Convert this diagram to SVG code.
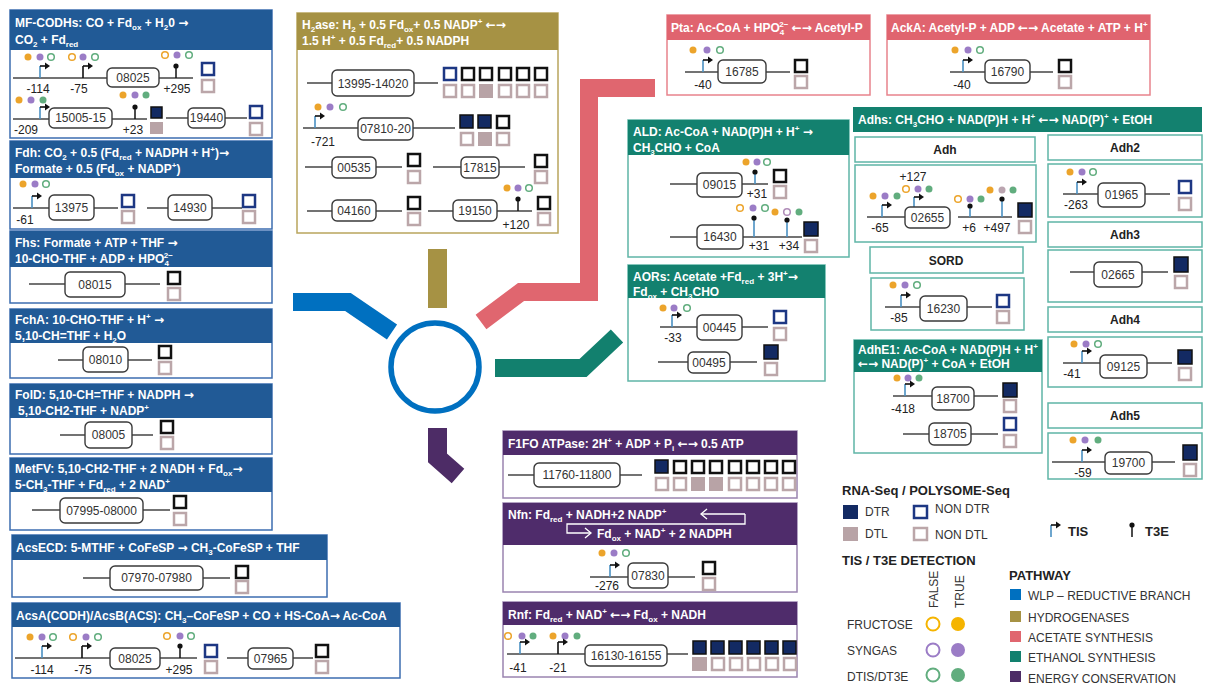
<svg xmlns="http://www.w3.org/2000/svg" xmlns:xlink="http://www.w3.org/1999/xlink" width="1209" height="685" viewBox="0 0 1209 685">
<style>
text{font-family:'Liberation Sans',Arial,sans-serif}
.hd{font-weight:bold;font-size:12px;fill:#fff}
.ar{font-family:'DejaVu Sans',sans-serif;font-weight:bold;font-size:12px}
.sub{font-size:8px;baseline-shift:-3px}
.sup{font-size:8px;baseline-shift:5px}
.gr{fill:#fff;stroke:#3a3a3a;stroke-width:1.4}
.gt{font-size:12px;fill:#333;text-anchor:middle}
.lb{font-size:12px;fill:#222;text-anchor:middle}
.ln{stroke:#444;stroke-width:1.5;fill:none}
.dtr{fill:#132a63;stroke:#111;stroke-width:1.5}
.ndb{fill:#fff;stroke:#1d3783;stroke-width:2.5}
.ndk{fill:#fff;stroke:#111;stroke-width:2.5}
.dtl{fill:#b8a3a6}
.ndl{fill:#fff;stroke:#bba6a9;stroke-width:2.5}
.of{fill:#eca42b}.oh{fill:#fff;stroke:#eca42b;stroke-width:1.5}
.pf{fill:#9b7cc6}.ph{fill:#fff;stroke:#b08cb8;stroke-width:1.5}
.gf{fill:#61ad7e}.gh{fill:#fff;stroke:#61ad7e;stroke-width:1.5}
.mf{fill:#bba5b0}
.bxB{fill:#fff;stroke:#3c6db0;stroke-width:1.5}.hB{fill:#215a96}
.bxO{fill:#fff;stroke:#b9a55c;stroke-width:1.5}.hO{fill:#a69244}
.bxP{fill:#fff;stroke:#e8838c;stroke-width:1.5}.hP{fill:#e0646f}
.bxT{fill:#fff;stroke:#5fb5a7;stroke-width:1.5}.hT{fill:#13816f}
.bxV{fill:#fff;stroke:#9a84b0;stroke-width:1.5}.hV{fill:#4f2c6b}
.sl{font-weight:bold;font-size:12px;fill:#222;text-anchor:middle}
.lg{font-size:12px;fill:#333}
.lgb{font-weight:bold;font-size:13px;fill:#222}
.t3b{stroke:#4a90c2;stroke-width:1.6}
.t3k{stroke:#111;stroke-width:1.5}
</style>
<defs>
<g id="tisB"><line x1="0" y1="0" x2="0" y2="-12" stroke="#4a90c2" stroke-width="1.6"/><line x1="0" y1="-12" x2="6" y2="-12" stroke="#111" stroke-width="1.6"/><path d="M5,-15.5 L10,-12 L5,-8.5 Z" fill="#111"/></g>
<g id="tisK"><line x1="0" y1="0" x2="0" y2="-12" stroke="#111" stroke-width="1.6"/><line x1="0" y1="-12" x2="6" y2="-12" stroke="#111" stroke-width="1.6"/><path d="M5,-15.5 L10,-12 L5,-8.5 Z" fill="#111"/></g>
<g id="t3K"><line x1="0" y1="0" x2="0" y2="-12" stroke="#111" stroke-width="1.5"/><circle cx="0" cy="-12" r="2.6" fill="#111"/></g>
<g id="t3B"><line x1="0" y1="0" x2="0" y2="-12" stroke="#4a90c2" stroke-width="1.6"/><circle cx="0" cy="-12" r="2.6" fill="#111"/></g>
</defs>
<rect width="1209" height="685" fill="#fff"/>

<g id="connectors" fill="none" stroke-width="18">
<polyline points="293,302 348,302 392,332" stroke="#0070c0"/>
<line x1="437.5" y1="249" x2="437.5" y2="308" stroke="#a69244" stroke-width="19"/>
<polyline points="481,322 521,292 589,292 589,88 655,88" stroke="#e0666f"/>
<polyline points="495,368 583,368 617,336" stroke="#12806e"/>
<polyline points="437.5,428 437.5,458 458,476" stroke="#4d2c66" stroke-width="19"/>
<circle cx="435" cy="367" r="44" stroke="#0070c0" stroke-width="5.5"/>
</g>

<g id="mfcodh">
<rect class="bxB" x="10" y="10" width="262" height="128"/>
<rect class="hB" x="10" y="10" width="262" height="40"/>
<text class="hd" x="15" y="27">MF-CODHs: CO + Fd<tspan class="sub">ox</tspan> + H<tspan class="sub">2</tspan>0 <tspan class="ar">→</tspan></text>
<text class="hd" x="15" y="44">CO<tspan class="sub">2</tspan> + Fd<tspan class="sub">red</tspan></text>
<circle class="of" cx="28" cy="57" r="3.5"/><circle class="pf" cx="40" cy="57" r="3.5"/><circle class="gh" cx="51" cy="57" r="3.3"/>
<circle class="oh" cx="72" cy="57" r="3.3"/><circle class="pf" cx="83" cy="57" r="3.5"/><circle class="gh" cx="95" cy="57" r="3.3"/>
<circle class="oh" cx="165" cy="55" r="3.3"/><circle class="pf" cx="177" cy="55" r="3.5"/><circle class="gh" cx="189" cy="55" r="3.3"/>
<line class="ln" x1="13" y1="78" x2="107" y2="78"/><line class="ln" x1="159" y1="78" x2="193" y2="78"/>
<use href="#tisB" x="40" y="78"/><use href="#tisK" x="83" y="78"/><use href="#t3K" x="176" y="78"/>
<rect class="gr" x="107" y="68" width="52" height="19" rx="5"/><text class="gt" x="133" y="82">08025</text>
<text class="lb" x="38" y="93">-114</text><text class="lb" x="79" y="93">-75</text><text class="lb" x="177" y="93">+295</text>
<rect class="ndb" x="202" y="63" width="12" height="12"/><rect class="ndl" x="202" y="80" width="12" height="12"/>
<circle class="of" cx="19" cy="100" r="3.5"/><circle class="pf" cx="31" cy="100" r="3.5"/><circle class="gf" cx="43" cy="100" r="3.5"/>
<circle class="of" cx="123" cy="95" r="3.5"/><circle class="pf" cx="135" cy="95" r="3.5"/><circle class="gf" cx="146" cy="95" r="3.5"/>
<line class="ln" x1="13" y1="119" x2="49" y2="119"/><line class="ln" x1="112" y1="119" x2="147" y2="119"/>
<use href="#tisB" x="40" y="119"/><use href="#t3K" x="135" y="119"/>
<rect class="gr" x="49" y="108" width="63" height="20" rx="5"/><text class="gt" x="80.5" y="122">15005-15</text>
<text class="lb" x="26" y="134">-209</text><text class="lb" x="133" y="134">+23</text>
<rect class="dtr" x="151" y="107" width="11" height="11"/><rect class="dtl" x="150" y="122" width="13" height="12"/>
<line class="ln" x1="166" y1="118" x2="247" y2="118"/>
<rect class="gr" x="188" y="108" width="37" height="20" rx="5"/><text class="gt" x="206.5" y="122">19440</text>
<rect class="ndb" x="250" y="106" width="12" height="12"/><rect class="ndl" x="250" y="123" width="12" height="12"/>
</g>

<g id="fdh">
<rect class="bxB" x="10" y="141" width="262" height="88"/>
<rect class="hB" x="10" y="141" width="262" height="37"/>
<text class="hd" x="15" y="157">Fdh: CO<tspan class="sub">2</tspan> +  0.5 (Fd<tspan class="sub">red</tspan> + NADPH + H<tspan class="sup">+</tspan>)<tspan class="ar">→</tspan></text>
<text class="hd" x="15" y="173">Formate + 0.5 (Fd<tspan class="sub">ox</tspan> + NADP<tspan class="sup">+</tspan>)</text>
<circle class="of" cx="23" cy="184" r="3.5"/><circle class="pf" cx="35" cy="184" r="3.5"/><circle class="gh" cx="46" cy="184" r="3.3"/>
<line class="ln" x1="13" y1="208" x2="118" y2="208"/>
<use href="#tisB" x="32" y="208"/>
<rect class="gr" x="49" y="195" width="45" height="25" rx="5"/><text class="gt" x="71.5" y="212">13975</text>
<text class="lb" x="25" y="224">-61</text>
<rect class="ndb" x="122" y="195" width="12" height="12"/><rect class="ndl" x="122" y="211" width="12" height="12"/>
<line class="ln" x1="147" y1="208" x2="242" y2="208"/>
<rect class="gr" x="168" y="195" width="44" height="25" rx="5"/><text class="gt" x="190" y="212">14930</text>
<rect class="ndb" x="243" y="195" width="12" height="12"/><rect class="ndl" x="243" y="211" width="12" height="12"/>
</g>

<g id="fhs">
<rect class="bxB" x="10" y="231" width="262" height="72"/>
<rect class="hB" x="10" y="231" width="262" height="36"/>
<text class="hd" x="15" y="247">Fhs: Formate  + ATP + THF <tspan class="ar">→</tspan></text>
<text class="hd" x="15" y="263">10-CHO-THF + ADP + HPO<tspan class="sub">4</tspan><tspan class="sup" dx="-5">2−</tspan></text>
<line class="ln" x1="29" y1="284" x2="160" y2="284"/>
<rect class="gr" x="65" y="272" width="60" height="25" rx="5"/><text class="gt" x="95" y="289">08015</text>
<rect class="ndk" x="168" y="272" width="12" height="12"/><rect class="ndl" x="168" y="288" width="12" height="12"/>
</g>

<g id="fcha">
<rect class="bxB" x="10" y="309" width="262" height="69"/>
<rect class="hB" x="10" y="309" width="262" height="34"/>
<text class="hd" x="15" y="324">FchA: 10-CHO-THF + H<tspan class="sup">+</tspan> <tspan class="ar">→</tspan></text>
<text class="hd" x="15" y="340">5,10-CH=THF + H<tspan class="sub">2</tspan>O</text>
<line class="ln" x1="58" y1="360" x2="152" y2="360"/>
<rect class="gr" x="83" y="347" width="45" height="25" rx="5"/><text class="gt" x="105.5" y="364">08010</text>
<rect class="ndk" x="159" y="346" width="12" height="12"/><rect class="ndl" x="159" y="362" width="12" height="12"/>
</g>

<g id="fold">
<rect class="bxB" x="10" y="384" width="262" height="70"/>
<rect class="hB" x="10" y="384" width="262" height="34"/>
<text class="hd" x="15" y="399">FolD: 5,10-CH=THF + NADPH <tspan class="ar">→</tspan></text>
<text class="hd" x="18" y="415">5,10-CH2-THF  + NADP<tspan class="sup">+</tspan></text>
<line class="ln" x1="60" y1="435" x2="153" y2="435"/>
<rect class="gr" x="85" y="422" width="47" height="26" rx="5"/><text class="gt" x="108.5" y="439">08005</text>
<rect class="ndk" x="161" y="421" width="12" height="12"/><rect class="ndl" x="161" y="437" width="12" height="12"/>
</g>

<g id="metfv">
<rect class="bxB" x="10" y="458" width="262" height="72"/>
<rect class="hB" x="10" y="458" width="262" height="34"/>
<text class="hd" x="15" y="473">MetFV: 5,10-CH2-THF + 2 NADH + Fd<tspan class="sub">ox</tspan><tspan class="ar">→</tspan></text>
<text class="hd" x="15" y="489">5-CH<tspan class="sub">3</tspan>-THF  + Fd<tspan class="sub">red</tspan> + 2 NAD<tspan class="sup">+</tspan></text>
<line class="ln" x1="32" y1="510" x2="170" y2="510"/>
<rect class="gr" x="60" y="498" width="83" height="25" rx="5"/><text class="gt" x="101.5" y="515">07995-08000</text>
<rect class="ndk" x="174" y="496" width="12" height="12"/><rect class="ndl" x="174" y="513" width="12" height="12"/>
</g>

<g id="acsecd">
<rect class="bxB" x="12" y="535" width="315" height="62"/>
<rect class="hB" x="12" y="535" width="315" height="25"/>
<text class="hd" x="16" y="552">AcsECD: 5-MTHF + CoFeSP <tspan class="ar">→</tspan> CH<tspan class="sub">3</tspan>-CoFeSP + THF</text>
<line class="ln" x1="83" y1="578" x2="230" y2="578"/>
<rect class="gr" x="110" y="566" width="93" height="24" rx="5"/><text class="gt" x="156.5" y="582">07970-07980</text>
<rect class="ndk" x="236" y="566" width="12" height="12"/><rect class="ndl" x="236" y="581" width="12" height="12"/>
</g>

<g id="acsa">
<rect class="bxB" x="12" y="603" width="388" height="75"/>
<rect class="hB" x="12" y="603" width="388" height="24"/>
<text class="hd" x="16" y="620">AcsA(CODH)/AcsB(ACS): CH<tspan class="sub">3</tspan>–CoFeSP + CO + HS-CoA<tspan class="ar">→</tspan> Ac-CoA</text>
<circle class="of" cx="30" cy="637" r="3.5"/><circle class="pf" cx="42" cy="637" r="3.5"/><circle class="gh" cx="53" cy="637" r="3.3"/>
<circle class="oh" cx="73" cy="637" r="3.3"/><circle class="pf" cx="86" cy="637" r="3.5"/><circle class="gh" cx="98" cy="637" r="3.3"/>
<circle class="oh" cx="167" cy="636" r="3.3"/><circle class="pf" cx="180" cy="636" r="3.5"/><circle class="gh" cx="191" cy="636" r="3.3"/>
<line class="ln" x1="15" y1="658" x2="110" y2="658"/><line class="ln" x1="160" y1="658" x2="197" y2="658"/>
<use href="#tisB" x="42" y="658"/><use href="#tisK" x="82" y="658"/><use href="#t3K" x="180" y="658"/>
<rect class="gr" x="110" y="648" width="50" height="21" rx="5"/><text class="gt" x="135" y="663">08025</text>
<text class="lb" x="42" y="674">-114</text><text class="lb" x="83" y="674">-75</text><text class="lb" x="179" y="674">+295</text>
<rect class="ndb" x="205" y="645" width="12" height="12"/><rect class="ndl" x="205" y="661" width="12" height="12"/>
<line class="ln" x1="227" y1="658" x2="313" y2="658"/>
<rect class="gr" x="248" y="648" width="45" height="21" rx="5"/><text class="gt" x="270.5" y="663">07965</text>
<rect class="ndk" x="316" y="645" width="12" height="12"/><rect class="ndl" x="316" y="661" width="12" height="12"/>
</g>

<g id="h2ase">
<rect class="bxO" x="297" y="13" width="261" height="220"/>
<rect class="hO" x="297" y="13" width="261" height="37"/>
<text class="hd" x="302" y="29">H<tspan class="sub">2</tspan>ase: H<tspan class="sub">2</tspan> + 0.5 Fd<tspan class="sub">ox</tspan>+ 0.5 NADP<tspan class="sup">+</tspan> <tspan class="ar">←→</tspan></text>
<text class="hd" x="302" y="45">1.5 H<tspan class="sup">+</tspan> + 0.5 Fd<tspan class="sub">red</tspan>+ 0.5 NADPH</text>
<line class="ln" x1="307" y1="83" x2="438" y2="83"/>
<rect class="gr" x="332" y="70" width="82" height="26" rx="5"/><text class="gt" x="373" y="88">13995-14020</text>
<rect class="ndb" x="444" y="68" width="12" height="12"/><rect class="ndk" x="462" y="68" width="12" height="12"/><rect class="ndk" x="480" y="68" width="12" height="12"/><rect class="ndk" x="499" y="68" width="12" height="12"/><rect class="ndk" x="517" y="68" width="12" height="12"/><rect class="ndk" x="535" y="68" width="12" height="12"/>
<rect class="ndl" x="444" y="85" width="12" height="12"/><rect class="ndl" x="462" y="85" width="12" height="12"/><rect class="dtl" x="479" y="84" width="14" height="14"/><rect class="ndl" x="499" y="85" width="12" height="12"/><rect class="ndl" x="517" y="85" width="12" height="12"/><rect class="ndl" x="535" y="85" width="12" height="12"/>
<circle class="of" cx="318" cy="107" r="3.5"/><circle class="pf" cx="330" cy="107" r="3.5"/><circle class="gh" cx="343" cy="107" r="3.3"/>
<line class="ln" x1="303" y1="128" x2="455" y2="128"/>
<use href="#tisB" x="315" y="128"/>
<rect class="gr" x="358" y="118" width="55" height="22" rx="5"/><text class="gt" x="385.5" y="133">07810-20</text>
<text class="lb" x="323" y="146">-721</text>
<rect class="dtr" x="460" y="115" width="13" height="13"/><rect class="dtr" x="478" y="115" width="13" height="13"/><rect class="ndk" x="497" y="116" width="12" height="12"/>
<rect class="ndl" x="461" y="133" width="12" height="12"/><rect class="dtl" x="478" y="132" width="14" height="14"/><rect class="ndl" x="497" y="133" width="12" height="12"/>
<line class="ln" x1="305" y1="167" x2="402" y2="167"/>
<rect class="gr" x="332" y="157" width="44" height="21" rx="5"/><text class="gt" x="354" y="172">00535</text>
<rect class="ndk" x="408" y="154" width="12" height="12"/><rect class="ndl" x="408" y="171" width="12" height="12"/>
<line class="ln" x1="433" y1="167" x2="525" y2="167"/>
<rect class="gr" x="461" y="157" width="38" height="21" rx="5"/><text class="gt" x="480" y="172">17815</text>
<rect class="ndk" x="535" y="155" width="12" height="12"/><rect class="ndl" x="535" y="171" width="12" height="12"/>
<line class="ln" x1="307" y1="211" x2="402" y2="211"/>
<rect class="gr" x="332" y="200" width="44" height="21" rx="5"/><text class="gt" x="354" y="215">04160</text>
<rect class="ndk" x="408" y="197" width="12" height="12"/><rect class="ndl" x="408" y="213" width="12" height="12"/>
<line class="ln" x1="428" y1="211" x2="532" y2="211"/>
<rect class="gr" x="453" y="200" width="44" height="21" rx="5"/><text class="gt" x="475" y="215">19150</text>
<use href="#t3K" x="518" y="211"/>
<circle class="of" cx="507" cy="188" r="3.5"/><circle class="pf" cx="518" cy="188" r="3.5"/><circle class="gh" cx="529" cy="188" r="3.3"/>
<text class="lb" x="516" y="229">+120</text>
<rect class="ndk" x="538" y="197" width="12" height="12"/><rect class="ndl" x="538" y="213" width="12" height="12"/>
</g>

<g id="pta">
<rect class="bxP" x="667" y="15" width="203" height="80"/>
<rect class="hP" x="667" y="15" width="203" height="25"/>
<text class="hd" x="671" y="32">Pta: Ac-CoA + HPO<tspan class="sub">4</tspan><tspan class="sup" dx="-5">2−</tspan> <tspan class="ar">←→</tspan> Acetyl-P</text>
<circle class="of" cx="693" cy="50" r="3.5"/><circle class="pf" cx="707" cy="50" r="3.5"/><circle class="gh" cx="720" cy="50" r="3.3"/>
<line class="ln" x1="685" y1="72" x2="790" y2="72"/>
<use href="#tisB" x="703" y="72"/>
<rect class="gr" x="718" y="60" width="48" height="23" rx="5"/><text class="gt" x="742" y="76">16785</text>
<text class="lb" x="703" y="89">-40</text>
<rect class="ndk" x="795" y="60" width="12" height="12"/><rect class="ndl" x="795" y="76" width="12" height="12"/>
</g>

<g id="acka">
<rect class="bxP" x="887" y="15" width="263" height="80"/>
<rect class="hP" x="887" y="15" width="263" height="25"/>
<text class="hd" x="891" y="32">AckA: Acetyl-P + ADP <tspan class="ar">←→</tspan> Acetate + ATP + H<tspan class="sup">+</tspan></text>
<circle class="of" cx="955" cy="50" r="3.5"/><circle class="pf" cx="968" cy="50" r="3.5"/><circle class="gh" cx="980" cy="50" r="3.3"/>
<line class="ln" x1="950" y1="72" x2="1053" y2="72"/>
<use href="#tisB" x="963" y="72"/>
<rect class="gr" x="985" y="60" width="45" height="23" rx="5"/><text class="gt" x="1007.5" y="76">16790</text>
<text class="lb" x="962" y="89">-40</text>
<rect class="ndk" x="1059" y="60" width="12" height="12"/><rect class="ndl" x="1059" y="76" width="12" height="12"/>
</g>

<g id="ald">
<rect class="bxT" x="628" y="120" width="221" height="137"/>
<rect class="hT" x="628" y="120" width="221" height="35"/>
<text class="hd" x="633" y="136">ALD: Ac-CoA + NAD(P)H + H<tspan class="sup">+</tspan> <tspan class="ar">→</tspan></text>
<text class="hd" x="633" y="152">CH<tspan class="sub">3</tspan>CHO + CoA</text>
<line class="ln" x1="670" y1="184" x2="768" y2="184"/>
<rect class="gr" x="697" y="173" width="45" height="24" rx="5"/><text class="gt" x="719.5" y="189">09015</text>
<line class="t3b" x1="755" y1="184" x2="755" y2="172"/><circle cx="755" cy="172" r="2.6" fill="#111"/>
<circle class="of" cx="746" cy="162" r="3.5"/><circle class="pf" cx="757" cy="162" r="3.5"/><circle class="gh" cx="767" cy="162" r="3.3"/>
<text class="lb" x="757" y="198">+31</text>
<rect class="ndk" x="774" y="170" width="12" height="12"/><rect class="ndl" x="774" y="186" width="12" height="12"/>
<line class="ln" x1="670" y1="237" x2="802" y2="237"/>
<rect class="gr" x="697" y="225" width="46" height="24" rx="5"/><text class="gt" x="720" y="241">16430</text>
<line class="t3b" x1="754" y1="237" x2="754" y2="218"/><circle cx="754" cy="218" r="2.6" fill="#111"/>
<line class="t3b" x1="787" y1="237" x2="787" y2="220"/><circle cx="787" cy="220" r="2.6" fill="#111"/>
<circle class="oh" cx="740" cy="208" r="3.3"/><circle class="pf" cx="753" cy="208" r="3.5"/><circle class="gh" cx="765" cy="208" r="3.3"/>
<circle class="of" cx="775" cy="212" r="3.5"/><circle class="ph" cx="787" cy="212" r="3.3"/><circle class="gf" cx="799" cy="212" r="3.5"/>
<text class="lb" x="759" y="250">+31</text><text class="lb" x="789" y="250">+34</text>
<rect class="dtr" x="804" y="222" width="14" height="14"/><rect class="ndl" x="805" y="240" width="12" height="12"/>
</g>

<g id="aors">
<rect class="bxT" x="628" y="265" width="197" height="116"/>
<rect class="hT" x="628" y="265" width="197" height="33"/>
<text class="hd" x="633" y="281">AORs: Acetate +Fd<tspan class="sub">red</tspan> + 3H<tspan class="sup">+</tspan><tspan class="ar">→</tspan></text>
<text class="hd" x="633" y="296">Fd<tspan class="sub">ox</tspan> + CH<tspan class="sub">3</tspan>CHO</text>
<circle class="of" cx="663" cy="308" r="3.5"/><circle class="pf" cx="674" cy="308" r="3.5"/><circle class="gh" cx="687" cy="308" r="3.3"/>
<line class="ln" x1="660" y1="327" x2="768" y2="327"/>
<use href="#tisB" x="672" y="327"/>
<rect class="gr" x="697" y="315" width="45" height="25" rx="5"/><text class="gt" x="719.5" y="332">00445</text>
<text class="lb" x="673" y="342">-33</text>
<rect class="ndb" x="774" y="311" width="12" height="12"/><rect class="ndl" x="774" y="328" width="12" height="12"/>
<line class="ln" x1="658" y1="362" x2="757" y2="362"/>
<rect class="gr" x="688" y="352" width="42" height="21" rx="5"/><text class="gt" x="709" y="367">00495</text>
<rect class="dtr" x="764" y="345" width="14" height="14"/><rect class="ndl" x="765" y="363" width="12" height="12"/>
</g>

<g id="adhs">
<rect class="hT" x="853" y="107" width="349" height="25"/>
<text class="hd" x="858" y="124">Adhs: CH<tspan class="sub">3</tspan>CHO + NAD(P)H + H<tspan class="sup">+</tspan> <tspan class="ar">←→</tspan> NAD(P)<tspan class="sup">+</tspan> + EtOH</text>
</g>

<g id="adh">
<rect class="bxT" x="855" y="137" width="180" height="25"/><text class="sl" x="945" y="154">Adh</text>
<rect class="bxT" x="855" y="165" width="181" height="77"/>
<text class="lb" x="913" y="181">+127</text>
<circle class="of" cx="873" cy="196" r="3.5"/><circle class="pf" cx="885" cy="196" r="3.5"/><circle class="gf" cx="897" cy="196" r="3.5"/>
<circle class="oh" cx="906" cy="189" r="3.3"/><circle class="pf" cx="918" cy="189" r="3.5"/><circle class="gf" cx="929" cy="189" r="3.5"/>
<line class="ln" x1="867" y1="217" x2="905" y2="217"/>
<use href="#tisB" x="882" y="217"/><use href="#tisB" x="914" y="209"/>
<rect class="gr" x="905" y="207" width="45" height="21" rx="5"/><text class="gt" x="927.5" y="222">02655</text>
<line class="ln" x1="958" y1="217" x2="1012" y2="217"/>
<line class="t3b" x1="970" y1="217" x2="970" y2="206"/><circle cx="970" cy="206" r="2.6" fill="#111"/>
<line class="t3b" x1="1002" y1="217" x2="1002" y2="199"/><circle cx="1002" cy="199" r="2.6" fill="#111"/>
<circle class="oh" cx="958" cy="199" r="3.3"/><circle class="pf" cx="970" cy="199" r="3.5"/><circle class="gf" cx="981" cy="199" r="3.5"/>
<circle class="of" cx="990" cy="190" r="3.5"/><circle class="mf" cx="1002" cy="190" r="3.5"/><circle class="gf" cx="1013" cy="190" r="3.5"/>
<text class="lb" x="880" y="232">-65</text><text class="lb" x="969" y="232">+6</text><text class="lb" x="997" y="232">+497</text>
<rect class="dtr" x="1018" y="203" width="14" height="14"/><rect class="ndl" x="1019" y="221" width="12" height="12"/>
</g>

<g id="sord">
<rect class="bxT" x="870" y="247" width="153" height="26"/><text class="sl" x="946" y="265">SORD</text>
<rect class="bxT" x="871" y="278" width="153" height="52"/>
<circle class="of" cx="893" cy="285" r="3.5"/><circle class="pf" cx="905" cy="285" r="3.5"/><circle class="gh" cx="917" cy="285" r="3.3"/>
<line class="ln" x1="885" y1="307" x2="992" y2="307"/>
<use href="#tisB" x="901" y="307"/>
<rect class="gr" x="920" y="296" width="47" height="25" rx="5"/><text class="gt" x="943.5" y="313">16230</text>
<text class="lb" x="899" y="322">-85</text>
<rect class="ndb" x="997" y="295" width="12" height="12"/><rect class="ndl" x="997" y="311" width="12" height="12"/>
</g>

<g id="adh2">
<rect class="bxT" x="1048" y="135" width="154" height="25"/><text class="sl" x="1125" y="152">Adh2</text>
<rect class="bxT" x="1048" y="164" width="154" height="53"/>
<circle class="of" cx="1070" cy="172" r="3.5"/><circle class="pf" cx="1082" cy="172" r="3.5"/><circle class="gh" cx="1093" cy="172" r="3.3"/>
<line class="ln" x1="1063" y1="194" x2="1170" y2="194"/>
<use href="#tisB" x="1077" y="194"/>
<rect class="gr" x="1098" y="183" width="47" height="24" rx="5"/><text class="gt" x="1121.5" y="199">01965</text>
<text class="lb" x="1076" y="209">-263</text>
<rect class="ndb" x="1179" y="181" width="12" height="12"/><rect class="ndl" x="1179" y="198" width="12" height="12"/>
</g>

<g id="adh3">
<rect class="bxT" x="1048" y="222" width="154" height="25"/><text class="sl" x="1125" y="239">Adh3</text>
<rect class="bxT" x="1048" y="250" width="154" height="52"/>
<line class="ln" x1="1070" y1="272" x2="1168" y2="272"/>
<rect class="gr" x="1094" y="262" width="48" height="25" rx="5"/><text class="gt" x="1118" y="279">02665</text>
<rect class="dtr" x="1174" y="257" width="14" height="15"/><rect class="ndl" x="1175" y="276" width="12" height="12"/>
</g>

<g id="adh4">
<rect class="bxT" x="1048" y="307" width="154" height="25"/><text class="sl" x="1125" y="324">Adh4</text>
<rect class="bxT" x="1048" y="337" width="154" height="50"/>
<circle class="of" cx="1074" cy="344" r="3.5"/><circle class="pf" cx="1086" cy="344" r="3.5"/><circle class="gh" cx="1098" cy="344" r="3.3"/>
<line class="ln" x1="1063" y1="363" x2="1172" y2="363"/>
<use href="#tisB" x="1082" y="363"/>
<rect class="gr" x="1100" y="355" width="47" height="23" rx="5"/><text class="gt" x="1123.5" y="371">09125</text>
<text class="lb" x="1072" y="378">-41</text>
<rect class="dtr" x="1178" y="350" width="14" height="14"/><rect class="ndl" x="1179" y="368" width="12" height="12"/>
</g>

<g id="adh5">
<rect class="bxT" x="1048" y="403" width="154" height="25"/><text class="sl" x="1125" y="420">Adh5</text>
<rect class="bxT" x="1048" y="433" width="154" height="46"/>
<circle class="of" cx="1073" cy="440" r="3.5"/><circle class="pf" cx="1085" cy="440" r="3.5"/><circle class="gf" cx="1098" cy="440" r="3.5"/>
<line class="ln" x1="1052" y1="462" x2="1175" y2="462"/>
<use href="#tisB" x="1082" y="462"/>
<rect class="gr" x="1105" y="452" width="47" height="22" rx="5"/><text class="gt" x="1128.5" y="467">19700</text>
<text class="lb" x="1083" y="477">-59</text>
<rect class="dtr" x="1183" y="445" width="14" height="15"/><rect class="ndl" x="1184" y="464" width="12" height="12"/>
</g>

<g id="adhe1">
<rect class="bxT" x="854" y="340" width="188" height="113"/>
<rect class="hT" x="854" y="340" width="188" height="32"/>
<text class="hd" x="858" y="354">AdhE1: Ac-CoA + NAD(P)H + H<tspan class="sup">+</tspan></text>
<text class="hd" x="858" y="368"><tspan class="ar">←→</tspan> NAD(P)<tspan class="sup">+</tspan> + CoA + EtOH</text>
<circle class="of" cx="897" cy="378" r="3.5"/><circle class="pf" cx="908" cy="378" r="3.5"/><circle class="gf" cx="919" cy="378" r="3.5"/>
<line class="ln" x1="893" y1="396" x2="998" y2="396"/>
<use href="#tisB" x="905" y="396"/>
<rect class="gr" x="932" y="387" width="42" height="23" rx="5"/><text class="gt" x="953" y="403">18700</text>
<text class="lb" x="903" y="413">-418</text>
<rect class="dtr" x="1003" y="383" width="14" height="14"/><rect class="ndl" x="1004" y="400" width="12" height="12"/>
<line class="ln" x1="903" y1="434" x2="998" y2="434"/>
<rect class="gr" x="929" y="423" width="42" height="22" rx="5"/><text class="gt" x="950" y="438">18705</text>
<rect class="ndb" x="1004" y="418" width="12" height="12"/><rect class="ndl" x="1004" y="435" width="12" height="12"/>
</g>

<g id="f1fo">
<rect class="bxV" x="503" y="431" width="294" height="67"/>
<rect class="hV" x="503" y="431" width="294" height="24"/>
<text class="hd" x="508" y="448">F1FO ATPase: 2H<tspan class="sup">+</tspan> + ADP + P<tspan class="sub">i</tspan> <tspan class="ar">←→</tspan> 0.5  ATP</text>
<line class="ln" x1="508" y1="475" x2="642" y2="475"/>
<rect class="gr" x="534" y="463" width="86" height="24" rx="5"/><text class="gt" x="577" y="479">11760-11800</text>
<rect class="dtr" x="655" y="460" width="13" height="13"/><rect class="ndk" x="674" y="461" width="12" height="12"/><rect class="ndk" x="692" y="461" width="12" height="12"/><rect class="ndk" x="710" y="461" width="12" height="12"/><rect class="ndk" x="729" y="461" width="12" height="12"/><rect class="ndk" x="747" y="461" width="12" height="12"/><rect class="ndk" x="765" y="461" width="12" height="12"/><rect class="ndk" x="783" y="461" width="12" height="12"/>
<rect class="ndl" x="656" y="478" width="12" height="12"/><rect class="ndl" x="674" y="478" width="12" height="12"/><rect class="dtl" x="691" y="477" width="14" height="14"/><rect class="dtl" x="709" y="477" width="14" height="14"/><rect class="ndl" x="729" y="478" width="12" height="12"/><rect class="ndl" x="747" y="478" width="12" height="12"/><rect class="ndl" x="765" y="478" width="12" height="12"/><rect class="ndl" x="783" y="478" width="12" height="12"/>
</g>

<g id="nfn">
<rect class="bxV" x="503" y="503" width="294" height="89"/>
<rect class="hV" x="503" y="503" width="294" height="42"/>
<text class="hd" x="508" y="519">Nfn: Fd<tspan class="sub">red</tspan> + NADH+2 NADP<tspan class="sup">+</tspan></text>
<g fill="none" stroke="#fff" stroke-width="1.3">
<path d="M745,514 H701"/><path d="M707,509 L701,514 L707,519"/>
<path d="M745,514 V524 H567 V533 H591"/><path d="M585,528 L591,533 L585,538"/>
</g>
<text class="hd" x="597" y="538">Fd<tspan class="sub">ox</tspan> + NAD<tspan class="sup">+</tspan> + 2 NADPH</text>
<circle class="of" cx="602" cy="553" r="3.5"/><circle class="pf" cx="614" cy="553" r="3.5"/><circle class="gh" cx="626" cy="553" r="3.3"/>
<line class="ln" x1="590" y1="577" x2="695" y2="577"/>
<use href="#tisB" x="610" y="577"/>
<rect class="gr" x="628" y="563" width="40" height="25" rx="5"/><text class="gt" x="648" y="580">07830</text>
<text class="lb" x="607" y="590">-276</text>
<rect class="ndk" x="703" y="562" width="12" height="12"/><rect class="ndl" x="703" y="578" width="12" height="12"/>
</g>

<g id="rnf">
<rect class="bxV" x="503" y="602" width="294" height="75"/>
<rect class="hV" x="503" y="602" width="294" height="23"/>
<text class="hd" x="508" y="619">Rnf: Fd<tspan class="sub">red</tspan> + NAD<tspan class="sup">+</tspan> <tspan class="ar">←→</tspan> Fd<tspan class="sub">ox</tspan> + NADH</text>
<circle class="oh" cx="508" cy="636" r="3.3"/><circle class="pf" cx="522" cy="636" r="3.5"/><circle class="gf" cx="533" cy="636" r="3.5"/>
<circle class="of" cx="553" cy="636" r="3.5"/><circle class="pf" cx="565" cy="636" r="3.5"/><circle class="gf" cx="577" cy="636" r="3.5"/>
<line class="ln" x1="507" y1="654" x2="688" y2="654"/>
<use href="#tisB" x="520" y="654"/><use href="#tisK" x="558" y="654"/>
<rect class="gr" x="585" y="645" width="82" height="21" rx="5"/><text class="gt" x="626" y="660">16130-16155</text>
<text class="lb" x="518" y="672">-41</text><text class="lb" x="558" y="672">-21</text>
<rect class="dtr" x="693" y="641" width="13" height="13"/><rect class="dtr" x="711" y="641" width="13" height="13"/><rect class="dtr" x="729" y="641" width="13" height="13"/><rect class="dtr" x="747" y="641" width="13" height="13"/><rect class="dtr" x="765" y="641" width="13" height="13"/><rect class="dtr" x="783" y="641" width="13" height="13"/>
<rect class="dtl" x="692" y="657" width="15" height="14"/><rect class="ndl" x="712" y="658" width="12" height="12"/><rect class="ndl" x="730" y="658" width="12" height="12"/><rect class="ndl" x="748" y="658" width="12" height="12"/><rect class="ndl" x="766" y="658" width="12" height="12"/><rect class="ndl" x="784" y="658" width="12" height="12"/>
</g>

<g id="legend">
<text class="lgb" x="842" y="495">RNA-Seq / POLYSOME-Seq</text>
<rect x="843" y="505" width="15" height="14" fill="#132a63"/><text class="lg" x="865" y="516" font-size="13">DTR</text>
<rect x="914" y="506" width="13" height="12" fill="#fff" stroke="#1d3783" stroke-width="2.5"/><text class="lg" x="935" y="513" font-size="13">NON DTR</text>
<rect x="843" y="527" width="15" height="14" fill="#b8a3a6"/><text class="lg" x="865" y="538" font-size="13">DTL</text>
<rect x="914" y="528" width="13" height="12" fill="#fff" stroke="#bba6a9" stroke-width="2.5"/><text class="lg" x="935" y="539" font-size="13">NON DTL</text>
<use href="#tisB" x="1051" y="537"/><text class="lgb" x="1068" y="536" font-size="12">TIS</text>
<use href="#t3K" x="1132" y="537"/><text class="lgb" x="1145" y="536" font-size="12">T3E</text>
<text class="lgb" x="842" y="565">TIS / T3E DETECTION</text>
<text class="lg" transform="translate(938,608) rotate(-90)">FALSE</text>
<text class="lg" transform="translate(964,608) rotate(-90)">TRUE</text>
<text class="lg" x="847" y="629" font-size="13">FRUCTOSE</text>
<circle cx="933" cy="624" r="6.5" fill="#fff" stroke="#f5b400" stroke-width="2"/><circle cx="958" cy="624" r="7" fill="#f5b400"/>
<text class="lg" x="847" y="655" font-size="13">SYNGAS</text>
<circle cx="933" cy="650" r="6.5" fill="#fff" stroke="#9b7cc6" stroke-width="2"/><circle cx="958" cy="650" r="7" fill="#9b7cc6"/>
<text class="lg" x="847" y="681" font-size="13">DTIS/DT3E</text>
<circle cx="933" cy="675" r="6.5" fill="#fff" stroke="#61ad7e" stroke-width="2"/><circle cx="958" cy="675" r="7" fill="#61ad7e"/>
<text class="lgb" x="1009" y="580">PATHWAY</text>
<rect x="1010" y="589" width="11" height="11" fill="#0070c0"/><text class="lg" x="1028" y="600">WLP – REDUCTIVE BRANCH</text>
<rect x="1010" y="611" width="11" height="11" fill="#a69244"/><text class="lg" x="1028" y="622">HYDROGENASES</text>
<rect x="1010" y="631" width="11" height="11" fill="#e0666f"/><text class="lg" x="1028" y="642">ACETATE SYNTHESIS</text>
<rect x="1010" y="651" width="11" height="11" fill="#12806e"/><text class="lg" x="1028" y="662">ETHANOL SYNTHESIS</text>
<rect x="1010" y="671" width="11" height="11" fill="#4d2c66"/><text class="lg" x="1028" y="683">ENERGY CONSERVATION</text>
</g>
</svg>
